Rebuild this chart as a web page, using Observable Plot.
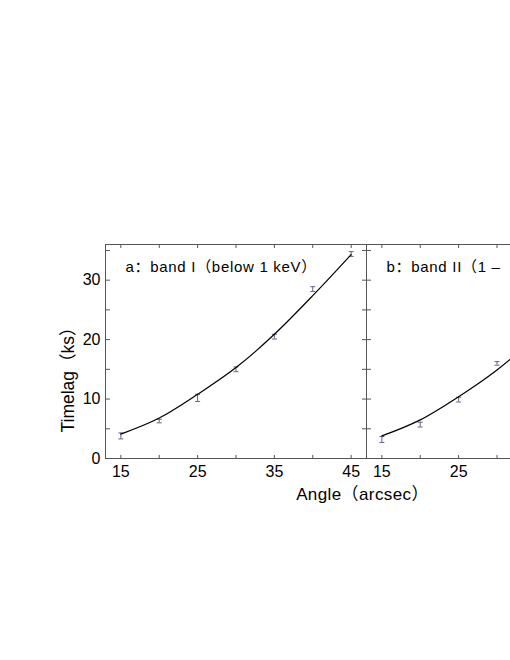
<!DOCTYPE html>
<html>
<head>
<meta charset="utf-8">
<script src="https://cdn.jsdelivr.net/npm/d3@7"></script>
<script src="https://cdn.jsdelivr.net/npm/@observablehq/plot@0.6"></script>
<style>
  html, body { margin: 0; padding: 0; background: #fff; overflow: hidden; width: 510px; height: 660px; }
  #chart { width: 640px; }
  #chart svg { display: block; max-width: none !important; width: 640px !important; height: 660px !important; }
</style>
</head>
<body>
<div id="chart"></div>
<script>
// ---- data ----
const panels = ["a", "b"];
// panel b's title is cut by the right edge of the picture; only its visible part is kept
const panelTitles = ["a：band I（below 1 keV）", "b：band II（1 –"];

const anglesA = [15, 20, 25, 30, 35, 40, 45];
const lagA    = [3.8, 6.3, 10.2, 15.0, 20.5, 28.5, 34.4];
const errA    = [0.5, 0.3, 0.6, 0.4, 0.4, 0.4, 0.4];
const modelA  = [4.1, 6.8, 10.8, 15.3, 20.9, 27.4, 34.3];

const anglesB      = [15, 20, 25, 30];
const lagB         = [3.2, 5.7, 9.9, 16.0];
const errB         = [0.5, 0.4, 0.4, 0.3];
const modelAnglesB = [15, 20, 25, 30, 35];
const modelB       = [3.8, 6.5, 10.4, 14.9, 20.3];

const xTickLabelsA = [15, 25, 35, 45];
const xTickLabelsB = [15, 25];          // the rest of panel b lies outside the picture
const xTicksAll    = [15, 20, 25, 30, 35, 40, 45];
const yTickLabels  = [0, 10, 20, 30];
const yTicksAll    = [0, 5, 10, 15, 20, 25, 30, 35];

const xLabel = "Angle（arcsec）";
const yLabel = "Timelag（ks）";

// ---- tables ----
const points = [
  ...anglesA.map((x, i) => ({panel: "a", x, y: lagA[i], e: errA[i]})),
  ...anglesB.map((x, i) => ({panel: "b", x, y: lagB[i], e: errB[i]}))
];
const model = [
  ...anglesA.map((x, i) => ({panel: "a", x, y: modelA[i]})),
  ...modelAnglesB.map((x, i) => ({panel: "b", x, y: modelB[i]}))
];
const titles = panels.map((p, i) => ({panel: p, text: panelTitles[i]}));
const xLabelRows = [
  ...xTickLabelsA.map(x => ({panel: "a", x})),
  ...xTickLabelsB.map(x => ({panel: "b", x}))
];

const capSymbol = {
  draw(context) { context.moveTo(-2.5, 0); context.lineTo(2.5, 0); }
};

const FONT = "'Liberation Sans', Arial, 'Noto Sans CJK SC', sans-serif";
const frameColor = "#555";
const errColor = "#62628a";

const tickOpts = {fill: "none", stroke: frameColor, tickSize: 4, label: null, facetAnchor: null};

const chart = Plot.plot({
  width: 640,
  height: 660,
  marginLeft: 105,
  marginRight: 13,
  marginTop: 244,
  marginBottom: 202,
  style: {fontFamily: FONT, color: "#000", background: "#fff", maxWidth: "none"},
  fx: {domain: panels, padding: 0, axis: null},
  x: {domain: [13, 47]},
  y: {domain: [0, 36]},
  marks: [
    Plot.frame({stroke: frameColor}),
    // inward ticks on all four sides of each panel
    Plot.axisX({...tickOpts, ticks: xTicksAll, anchor: "top", frameAnchor: "bottom"}),
    Plot.axisX({...tickOpts, ticks: xTicksAll, anchor: "bottom", frameAnchor: "top"}),
    Plot.axisY({...tickOpts, ticks: yTicksAll, anchor: "right", frameAnchor: "left"}),
    Plot.axisY({...tickOpts, ticks: yTicksAll, anchor: "left", frameAnchor: "right"}),
    // tick labels
    Plot.text(xLabelRows, {fx: "panel", x: "x", text: d => String(d.x), frameAnchor: "bottom", dy: 13, lineAnchor: "middle", fontSize: 16, fill: "#000"}),
    Plot.axisY({ticks: yTickLabels, tickSize: 0, tickPadding: 5, fontSize: 16, label: null}),
    // error bars
    Plot.ruleX(points, {fx: "panel", x: "x", y1: d => d.y - d.e, y2: d => d.y + d.e, stroke: errColor, strokeWidth: 1}),
    Plot.dot(points, {fx: "panel", x: "x", y: d => d.y - d.e, symbol: capSymbol, stroke: errColor, strokeWidth: 1, r: 3}),
    Plot.dot(points, {fx: "panel", x: "x", y: d => d.y + d.e, symbol: capSymbol, stroke: errColor, strokeWidth: 1, r: 3}),
    // model curve
    Plot.line(model, {fx: "panel", x: "x", y: "y", stroke: "#000", strokeWidth: 1.2, curve: "monotone-x"}),
    // panel titles
    Plot.text(titles, {fx: "panel", text: "text", frameAnchor: "top-left", dx: 20, dy: 23, lineAnchor: "middle", textAnchor: "start", fontSize: 15, fill: "#000"}),
    // axis labels
    Plot.text([{panel: "a", text: xLabel}], {fx: "panel", text: "text", frameAnchor: "bottom-right", dx: -4, dy: 36, lineAnchor: "middle", textAnchor: "middle", fontSize: 17, fill: "#000"}),
    Plot.text([{panel: "a", text: yLabel}], {fx: "panel", text: "text", frameAnchor: "left", dx: -37, dy: 24, rotate: -90, lineAnchor: "middle", textAnchor: "middle", fontSize: 17.5, fill: "#000"})
  ]
});
// letter spacing of the panel titles and the x-axis title, as in the reference
d3.select(chart).selectAll("text")
  .filter(function () { return panelTitles.includes(this.textContent); })
  .style("letter-spacing", "0.7px");
d3.select(chart).selectAll("text")
  .filter(function () { return this.textContent === xLabel; })
  .style("letter-spacing", "0.4px");
document.getElementById("chart").append(chart);
</script>
</body>
</html>
